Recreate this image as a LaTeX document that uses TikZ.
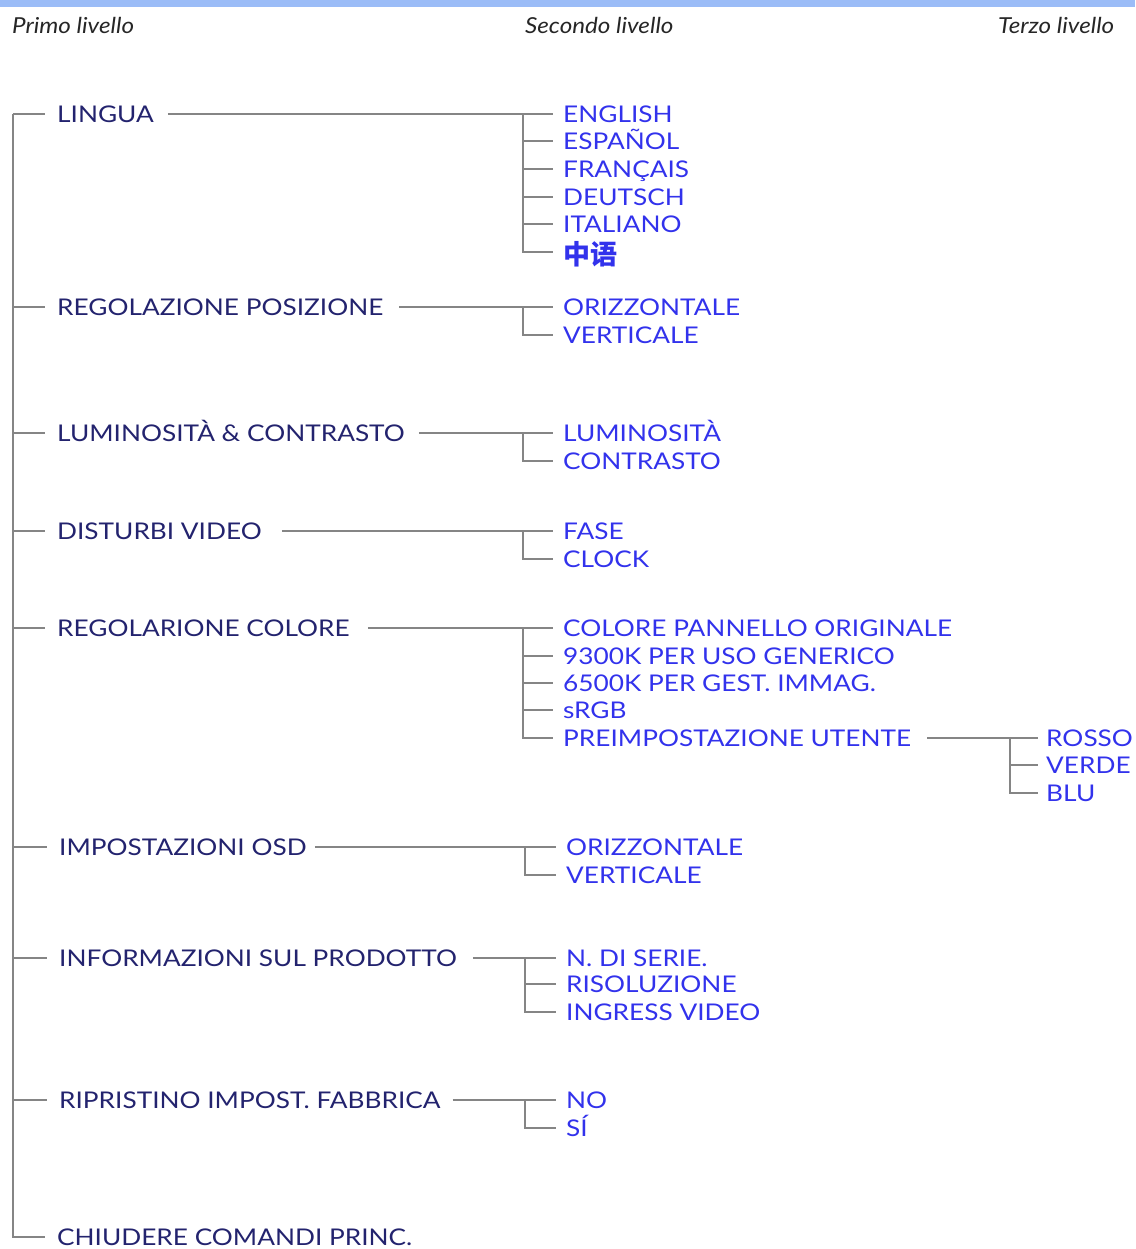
\documentclass[tikz,border=0pt]{standalone}
\usepackage{fontspec}
\setmainfont{Lato}
\newfontfamily\menufont[FakeStretch=1.14]{Lato}
\newfontfamily\headfont[FakeStretch=1.1]{Lato}
\newfontfamily\cjkfont{Noto Sans CJK SC}
\usepackage{tikz}
\usetikzlibrary{positioning}

\definecolor{barblue}{HTML}{9BBCF7}
\definecolor{mainblue}{HTML}{23236E}
\definecolor{subblue}{HTML}{3232EC}
\definecolor{linegray}{HTML}{858585}

\tikzset{
  mainitem/.style={anchor=west, inner sep=0pt, text height=17pt, text depth=0pt,
    font=\menufont\fontsize{23}{23}\selectfont, text=mainblue},
  subitem/.style={mainitem, text=subblue},
  header/.style={anchor=west, inner sep=0pt, font=\headfont\itshape\fontsize{22}{22}\selectfont, text=black!85},
  branch/.style={draw=linegray, line width=1.8pt},
}

\begin{document}
\begin{tikzpicture}[x=1pt,y=-1pt]
  \useasboundingbox (0,0) rectangle (1135,1249);
  \fill[barblue] (0,0) rectangle (1135,7);

  % Headers
  \node[header] (h1) at (12,25)  {Primo livello};
  \node[header] (h2) at (525,25) {Secondo livello};
  \node[header] (h3) at (998,25) {Terzo livello};

  % First level
  \node[mainitem] (lingua)   at (57,114)  {LINGUA};
  \node[mainitem] (posiz)    at (57,307)  {REGOLAZIONE POSIZIONE};
  \node[mainitem] (lumcon)   at (57,433)  {LUMINOSITÀ \& CONTRASTO};
  \node[mainitem] (disturbi) at (57,531)  {DISTURBI VIDEO};
  \node[mainitem] (colore)   at (57,628)  {REGOLARIONE COLORE};
  \node[mainitem] (osd)      at (59,847)  {IMPOSTAZIONI OSD};
  \node[mainitem] (info)     at (59,958)  {INFORMAZIONI SUL PRODOTTO};
  \node[mainitem] (reset)    at (59,1100) {RIPRISTINO IMPOST. FABBRICA};
  \node[mainitem] (chiudi)   at (57,1237) {CHIUDERE COMANDI PRINC.};

  % Second level
  \node[subitem] (english)  at (563,114) {ENGLISH};
  \node[subitem] (espanol)  at (563,141) {ESPAÑOL};
  \node[subitem] (francais) at (563,169) {FRANÇAIS};
  \node[subitem] (deutsch)  at (563,197) {DEUTSCH};
  \node[subitem] (italiano) at (563,224) {ITALIANO};
  \node[subitem, text height=20pt] (cinese) at (563,254)
    {\cjkfont\bfseries\fontsize{27}{27}\selectfont 中语};

  \node[subitem] (orizz)    at (563,307) {ORIZZONTALE};
  \node[subitem] (vert)     at (563,335) {VERTICALE};

  \node[subitem] (lum)      at (563,433) {LUMINOSITÀ};
  \node[subitem] (contr)    at (563,461) {CONTRASTO};

  \node[subitem] (fase)     at (563,531) {FASE};
  \node[subitem] (clock)    at (563,559) {CLOCK};

  \node[subitem] (pannello) at (563,628) {COLORE PANNELLO ORIGINALE};
  \node[subitem] (k9300)    at (563,656) {9300K PER USO GENERICO};
  \node[subitem] (k6500)    at (563,683) {6500K PER GEST. IMMAG.};
  \node[subitem] (srgb)     at (563,710) {sRGB};
  \node[subitem] (utente)   at (563,738) {PREIMPOSTAZIONE UTENTE};

  \node[subitem] (osdorizz) at (566,847) {ORIZZONTALE};
  \node[subitem] (osdvert)  at (566,875) {VERTICALE};

  \node[subitem] (serie)    at (566,958)  {N. DI SERIE.};
  \node[subitem] (risol)    at (566,984)  {RISOLUZIONE};
  \node[subitem] (ingress)  at (566,1012) {INGRESS VIDEO};

  \node[subitem] (no)       at (566,1100) {NO};
  \node[subitem] (si)       at (566,1128) {SÍ};

  % Third level
  \node[subitem] (rosso)    at (1046,738) {ROSSO};
  \node[subitem] (verde)    at (1046,765) {VERDE};
  \node[subitem] (blu)      at (1046,793) {BLU};

  % Trunk
  \coordinate (trunk) at (13,114);
  \foreach \m in {lingua,posiz,lumcon,disturbi,colore,osd,info,reset,chiudi}
    \draw[branch] (trunk) |- ([xshift=-12pt]\m.west);

  % Links first -> second level
  \draw[branch] ([xshift=14pt]lingua.east)   -- ([xshift=-10pt]english.west);
  \draw[branch] ([xshift=16pt]posiz.east)    -- ([xshift=-10pt]orizz.west);
  \draw[branch] ([xshift=14pt]lumcon.east)   -- ([xshift=-10pt]lum.west);
  \draw[branch] ([xshift=20pt]disturbi.east) -- ([xshift=-10pt]fase.west);
  \draw[branch] ([xshift=18pt]colore.east)   -- ([xshift=-10pt]pannello.west);
  \draw[branch] ([xshift=8pt]osd.east)       -- ([xshift=-10pt]osdorizz.west);
  \draw[branch] ([xshift=16pt]info.east)     -- ([xshift=-10pt]serie.west);
  \draw[branch] ([xshift=12pt]reset.east)    -- ([xshift=-10pt]no.west);
  \draw[branch] ([xshift=16pt]utente.east)   -- ([xshift=-8pt]rosso.west);

  % Junctions
  \coordinate (jlingua) at (523,114);
  \foreach \s in {espanol,francais,deutsch,italiano}
    \draw[branch] (jlingua) |- ([xshift=-10pt]\s.west);
  \draw[branch] (jlingua) |- ([xshift=-10pt,yshift=2pt]cinese.west);
  \draw[branch] (523,307) |- ([xshift=-10pt]vert.west);
  \draw[branch] (523,433) |- ([xshift=-10pt]contr.west);
  \draw[branch] (523,531) |- ([xshift=-10pt]clock.west);
  \coordinate (jcolore) at (523,628);
  \foreach \s in {k9300,k6500,srgb,utente}
    \draw[branch] (jcolore) |- ([xshift=-10pt]\s.west);
  \draw[branch] (525,847) |- ([xshift=-10pt]osdvert.west);
  \coordinate (jinfo) at (525,958);
  \foreach \s in {risol,ingress}
    \draw[branch] (jinfo) |- ([xshift=-10pt]\s.west);
  \draw[branch] (525,1100) |- ([xshift=-10pt]si.west);
  \coordinate (jutente) at (1010,738);
  \foreach \s in {verde,blu}
    \draw[branch] (jutente) |- ([xshift=-8pt]\s.west);
\end{tikzpicture}
\end{document}
